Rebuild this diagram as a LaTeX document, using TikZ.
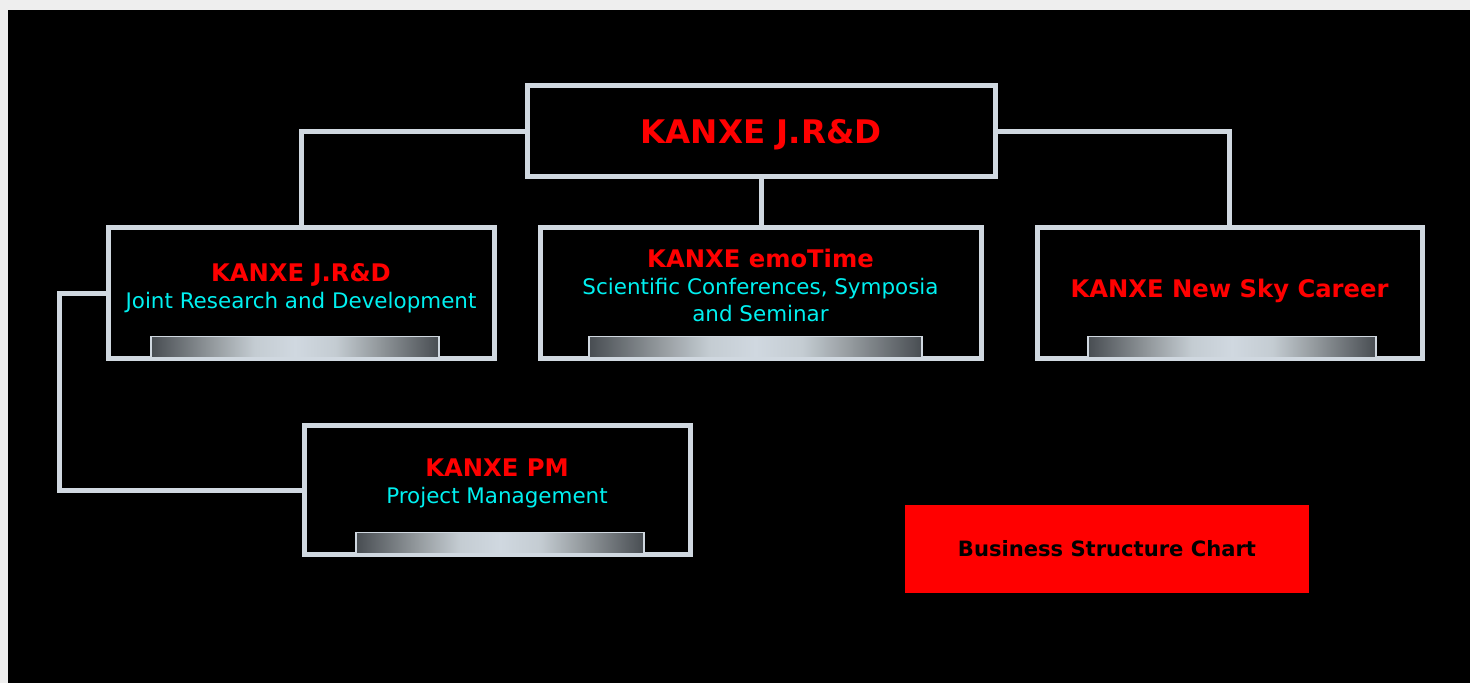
\documentclass[tikz,border=0pt]{standalone}
\usepackage{fontspec}
\setmainfont{DejaVu Sans}
\usepackage{tikz}
\usepackage{xcolor}
\definecolor{frame}{RGB}{208,216,224}
\definecolor{bardark}{RGB}{72,77,82}
\definecolor{barmid}{RGB}{150,156,160}
\definecolor{barlight}{RGB}{196,204,210}
\definecolor{pagegray}{RGB}{238,238,238}
\definecolor{kred}{RGB}{255,0,0}
\definecolor{kcyan}{RGB}{0,240,240}
\pgfdeclarehorizontalshading{barshade}{100bp}{color(0bp)=(bardark); color(25bp)=(bardark); color(36bp)=(barmid);
  color(43bp)=(barlight); color(50bp)=(frame); color(57bp)=(barlight); color(64bp)=(barmid); color(75bp)=(bardark); color(100bp)=(bardark)}
\newcommand{\headline}[1]{\textcolor{kred}{\bfseries\fontsize{13.8}{15.3}\selectfont #1}}
\newcommand{\subline}[1]{\textcolor{kcyan}{\fontsize{12.2}{15.3}\selectfont #1}}

\begin{document}
\begin{tikzpicture}[
  unitbox/.style = {draw=frame, line width=0.1cm, fill=black, outer sep=0pt, inner sep=0pt},
  bar/.style = {draw=frame, line width=0.03cm, shading=barshade,
    minimum height=0.42cm, minimum width=5.76cm, inner sep=0pt, outer sep=0pt, anchor=south},
  link/.style = {draw=frame, line width=0.1cm},
  boxtext/.style = {align=center, inner sep=0pt, font=\fontsize{12.2}{15.3}\selectfont}]
  \useasboundingbox (0,0) rectangle (29.4,-13.66);
  \fill[pagegray] (0,0) rectangle (29.4,-13.66);
  \fill[black] (0.16,-0.2) rectangle (29.4,-13.66);

  % boxes
  \node[unitbox, minimum width=9.36cm, minimum height=1.82cm] (top) at (15.22,-2.63) {};
  \node[unitbox, minimum width=7.72cm, minimum height=2.62cm] (jrd) at (6.02,-5.87) {};
  \node[unitbox, minimum width=8.82cm, minimum height=2.62cm] (emo) at (15.21,-5.87) {};
  \node[unitbox, minimum width=7.70cm, minimum height=2.62cm] (sky) at (24.59,-5.87) {};
  \node[unitbox, minimum width=7.72cm, minimum height=2.58cm] (pm) at (9.94,-9.81) {};

  % connectors
  \draw[link] (jrd.north) |- (top.west);
  \draw[link] (sky.north) |- (top.east);
  \draw[link] (top.south) -- (top.south |- emo.north);
  \draw[link] (jrd.west) -- ++(-0.98,0) |- (pm.west);

  % bars
  \node[bar] (jrdbar) at ([xshift=-0.12cm,yshift=0.03cm]jrd.south) {};
  \node[bar, minimum width=6.66cm] (emobar) at ([xshift=-0.1cm,yshift=0.03cm]emo.south) {};
  \node[bar] (skybar) at ([xshift=0.05cm,yshift=0.03cm]sky.south) {};
  \node[bar] (pmbar) at ([xshift=0.06cm,yshift=0.03cm]pm.south) {};

  % texts
  \node[text=kred, font=\bfseries\fontsize{18.5}{20}\selectfont] (toptext) at ([yshift=-0.06cm]top.center) {KANXE J.R\&D};
  \node[boxtext] (jrdtext) at ([yshift=0.11cm]jrd.center)
    {\headline{KANXE J.R\&D}\\ \subline{Joint Research and Development}};
  \node[boxtext] (emotext) at ([yshift=0.16cm]emo.center)
    {\headline{KANXE emoTime}\\ \subline{Scientific Conferences, Symposia}\\ \subline{and Seminar}};
  \node[boxtext] (skytext) at ([yshift=0.05cm]sky.center) {\headline{KANXE New Sky Career}};
  \node[boxtext] (pmtext) at ([yshift=0.15cm]pm.center)
    {\headline{KANXE PM}\\ \subline{Project Management}};

  % chart title
  \node[fill=kred, minimum width=8.08cm, minimum height=1.76cm, font=\bfseries\fontsize{12}{14}\selectfont] (chart) at (22.14,-10.98) {Business Structure Chart};
\end{tikzpicture}
\end{document}
